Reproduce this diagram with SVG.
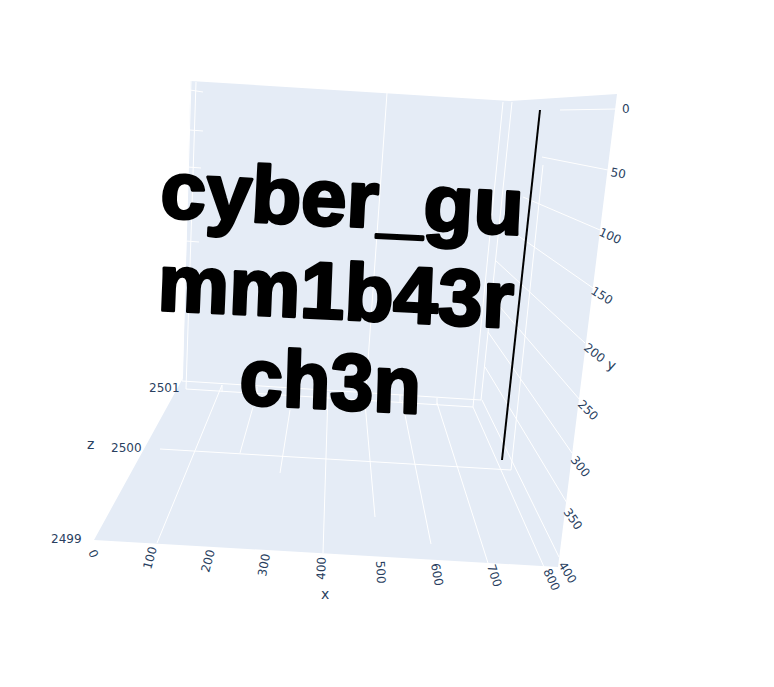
<svg xmlns="http://www.w3.org/2000/svg" width="774" height="687" viewBox="0 0 774 687">
<style>
.g{fill:none;stroke:#fff;stroke-width:1}
.t{font-family:"DejaVu Sans",sans-serif;font-size:12px;fill:#2a3f5f}
.a{font-family:"DejaVu Sans",sans-serif;font-size:14px;fill:#2a3f5f}
.b{font-family:"Liberation Sans",Arial,sans-serif;font-weight:700;font-size:80px;fill:#000;stroke:#000;stroke-width:3;stroke-linejoin:round}
</style>
<rect width="774" height="687" fill="#fff"/>
<g id="scene">
<path fill="#e5ecf6" d="M190.500 81L510 101L617 94L558 567L94 540L183 378Z"/>
</g>
<g id="grid">
<path class="g" d="M191 81L182 381M196 82L186 389M182 381L481 400M186 389L473 407"/>
<path class="g" d="M190 90L203 92M190 130L203 131M188 167L201 168M186 241L199 242"/>
<path class="g" d="M387 93L365 403M512 102L481 400M503 102L473 407"/>
<path class="g" d="M157 543L222 385M240 453L253 407M280 473L290 410M323 553L328 393M375 517L365 403M431 544L402 400M488 563L437 403M544 567L473 407"/>
<path class="g" d="M222 385V392M257 387V395M328 392V399M400 395V402M437 398V405"/>
<path class="g" d="M160 449L511 470L543 165"/>
<path class="g" d="M560 110L616 109M542 157L608 170M523 197L600 230M517 235L593 288M495 260L585 343M500 307L580 400M488 332L572 453M485 367L567 503M482 400L559 557"/>
</g>
<g id="trace">
<path d="M540 110L502 460" fill="none" stroke="#000" stroke-width="2"/>
<text class="b" transform="matrix(1.02 .05 -.05 1 159.500 217)">cyber_gu</text>
<text class="b" transform="matrix(1 .05 -.04 1 157 310)">mm1b43r</text>
<text class="b" transform="matrix(.97 .05 -.03 1 239 404)">ch3n</text>
</g>
<g id="ticks-z">
<text class="t" x="149" y="392">2501</text>
<text class="t" x="111" y="452">2500</text>
<text class="t" x="51" y="543">2499</text>
<text class="a" x="87" y="449">z</text>
</g>
<g id="ticks-x">
<text class="t" transform="translate(88 552) rotate(65)">0</text>
<text class="t" transform="translate(151 570) rotate(-75)">100</text>
<text class="t" transform="translate(209 573) rotate(-75)">200</text>
<text class="t" transform="translate(266 577) rotate(-80)">300</text>
<text class="t" transform="translate(325 580) rotate(-88)">400</text>
<text class="t" transform="translate(376 561) rotate(87)">500</text>
<text class="t" transform="translate(431 564) rotate(80)">600</text>
<text class="t" transform="translate(487 566) rotate(72)">700</text>
<text class="t" transform="translate(543 571) rotate(65)">800</text>
<text class="a" x="321" y="599">x</text>
</g>
<g id="ticks-y">
<text class="t" x="622" y="113">0</text>
<text class="t" transform="translate(610 176) rotate(10)">50</text>
<text class="t" transform="translate(598 235) rotate(24)">100</text>
<text class="t" transform="translate(590 293) rotate(32)">150</text>
<text class="t" transform="translate(583 349) rotate(38)">200</text>
<text class="t" transform="translate(577 405) rotate(45)">250</text>
<text class="t" transform="translate(570 460) rotate(52)">300</text>
<text class="t" transform="translate(563 512) rotate(55)">350</text>
<text class="t" transform="translate(558 565) rotate(58)">400</text>
<text class="a" transform="translate(606 368) rotate(20)">y</text>
</g>
</svg>
